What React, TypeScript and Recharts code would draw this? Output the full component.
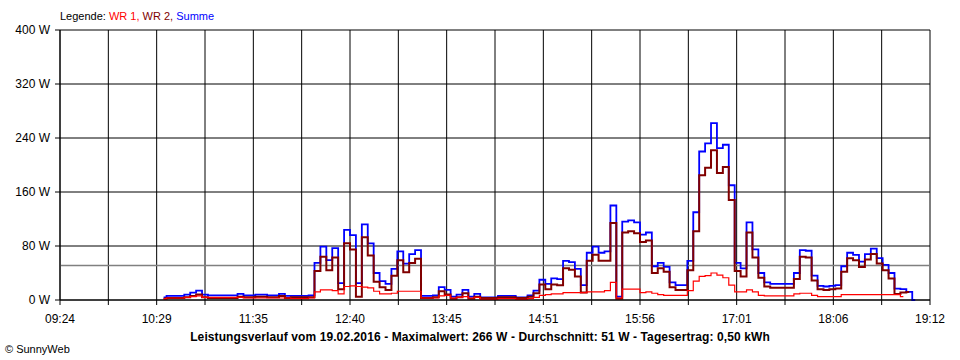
import React from 'react';
import { LineChart, Line, XAxis, YAxis, CartesianGrid, ReferenceLine } from 'recharts';

// sampling grid: 10:34 onwards, every 4 minutes (minutes since midnight)
const startMinute = 634;
const stepMinutes = 4;

const summe = [
  4, 6, 6, 6, 8, 11, 14, 8, 7, 7, 7, 7, 7, 9, 7, 7, 8, 8, 7, 7, 9, 6, 6, 6, 6, 7,
  55, 79, 59, 77, 25, 104, 96, 25, 112, 84, 40, 28, 24, 46, 72, 54, 68, 74, 6, 6, 7, 19,
  15, 5, 8, 15, 5, 9, 4, 4, 4, 6, 6, 6, 4, 4, 7, 14, 30, 24, 32, 31, 58, 56, 46, 22,
  70, 79, 70, 72, 140, 5, 116, 118, 115, 97, 100, 50, 55, 49, 26, 22, 22, 58,
  130, 220, 232, 262, 225, 230, 170, 55, 47, 115, 75, 40, 26, 24, 24, 24, 24, 40,
  74, 73, 36, 21, 20, 21, 22, 50, 70, 67, 57, 68, 76, 62, 52, 40, 17, 16, 12, 0,
];

const wr1 = [
  2, 3, 3, 3, 4, 5, 6, 4, 4, 4, 4, 4, 4, 4, 3, 3, 3, 3, 3, 3, 3, 3, 2, 2, 2, 3,
  12, 15, 15, 14, 9, 20, 21, 20, 19, 18, 13, 9, 9, 10, 13, 13, 13, 13, 3, 3, 3, 6,
  7, 3, 4, 5, 3, 4, 1, 1, 1, 2, 2, 2, 1, 1, 2, 4, 7, 8, 9, 9, 11, 11, 11, 11,
  12, 12, 12, 14, 26, 3, 16, 16, 16, 11, 12, 10, 8, 7, 7, 7, 7, 14,
  28, 35, 36, 40, 37, 33, 22, 12, 12, 15, 12, 7, 6, 6, 6, 6, 6, 9,
  10, 10, 7, 5, 5, 5, 5, 8, 8, 8, 8, 8, 8, 8, 8, 8, 8, 5, null, null,
];

const wr2 = [
  2, 3, 3, 3, 4, 6, 8, 4, 3, 3, 3, 3, 3, 5, 4, 4, 5, 5, 4, 4, 6, 3, 4, 4, 4, 4,
  43, 64, 44, 63, 16, 84, 75, 5, 93, 66, 27, 19, 15, 36, 59, 41, 55, 61, 3, 3, 4, 13,
  8, 2, 4, 10, 2, 5, 3, 3, 3, 4, 4, 4, 3, 3, 5, 10, 23, 16, 23, 22, 47, 45, 35, 11,
  58, 67, 58, 58, 114, 2, 100, 102, 99, 86, 88, 40, 47, 42, 19, 15, 15, 44,
  102, 185, 196, 222, 188, 197, 148, 43, 35, 100, 63, 33, 20, 18, 18, 18, 18, 31,
  64, 63, 29, 16, 15, 16, 17, 42, 62, 59, 49, 60, 68, 54, 44, 32, 9, 11, 12, null,
];

const xTickLabels = ['09:24', '10:29', '11:35', '12:40', '13:45', '14:51', '15:56', '17:01', '18:06', '19:12'];
const yTicks = [0, 80, 160, 240, 320, 400];
const average = 51;

const X_MIN = 564; // 09:24
const X_MAX = 1152; // 19:12
// one gridline every half label step
const xTicks = Array.from({ length: 19 }, (_, k) => X_MIN + (k * (X_MAX - X_MIN)) / 18);

const data = summe.map((s, i) => ({
  t: startMinute + i * stepMinutes,
  wr1: wr1[i],
  wr2: wr2[i],
  summe: s,
}));

const FONT = "'Liberation Sans', Arial, sans-serif";

export default function App() {
  return (
    <div style={{ position: 'absolute', left: 0, top: 0, width: 960, height: 360, background: '#fff', fontFamily: FONT }}>
      <div style={{ position: 'absolute', left: 60, top: 10, fontSize: 11, whiteSpace: 'pre' }}>
        <span style={{ color: '#000' }}>Legende: </span>
        <span style={{ color: '#ff0000' }}>WR 1, </span>
        <span style={{ color: '#800000' }}>WR 2, </span>
        <span style={{ color: '#0000ff' }}>Summe</span>
      </div>
      <LineChart width={960} height={360} data={data} margin={{ top: 30, right: 30, bottom: 0, left: 0 }}>
        <CartesianGrid stroke="#000" strokeWidth={1} horizontalValues={yTicks} verticalValues={xTicks} />
        <XAxis
          dataKey="t"
          type="number"
          domain={[X_MIN, X_MAX]}
          ticks={xTicks}
          interval={0}
          height={60}
          tickSize={5}
          tickMargin={9}
          stroke="#000"
          tick={{ fill: '#000', fontSize: 12, fontFamily: FONT }}
          tickFormatter={(_v: number, i: number) => (i % 2 === 0 ? xTickLabels[i / 2] : '')}
        />
        <YAxis
          type="number"
          domain={[0, 400]}
          ticks={yTicks}
          width={60}
          tickSize={5}
          tickMargin={5}
          stroke="#000"
          tick={{ fill: '#000', fontSize: 12, fontFamily: FONT }}
          tickFormatter={(v: number) => `${v} W`}
        />
        <ReferenceLine y={average} stroke="#808080" strokeWidth={1.5} />
        <Line type="step" dataKey="summe" stroke="#0000ff" strokeWidth={1.8} dot={false} isAnimationActive={false} connectNulls={false} />
        <Line type="step" dataKey="wr2" stroke="#800000" strokeWidth={2} dot={false} isAnimationActive={false} connectNulls={false} />
        <Line type="step" dataKey="wr1" stroke="#ff0000" strokeWidth={1.2} dot={false} isAnimationActive={false} connectNulls={false} />
      </LineChart>
      <div style={{ position: 'absolute', left: 0, width: 960, top: 330, textAlign: 'center', fontSize: 12, fontWeight: 'bold', letterSpacing: 0.1 }}>
        Leistungsverlauf vom 19.02.2016 - Maximalwert: 266 W - Durchschnitt: 51 W - Tagesertrag: 0,50 kWh
      </div>
      <div style={{ position: 'absolute', left: 5, top: 343, fontSize: 11 }}>© SunnyWeb</div>
    </div>
  );
}
